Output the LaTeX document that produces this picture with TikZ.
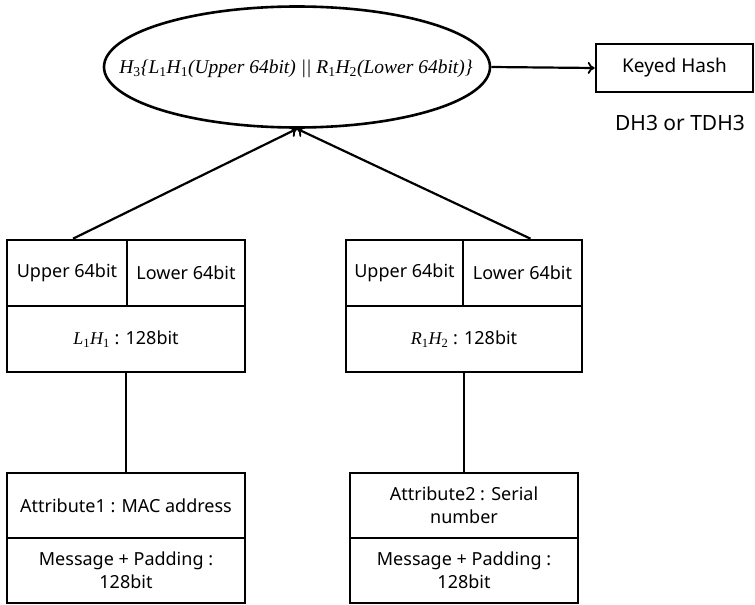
\documentclass[tikz,border=0pt]{standalone}
\usepackage{fontspec}
\setmainfont{Noto Sans}
\newfontfamily\mfont{Liberation Serif}
\usetikzlibrary{shapes.geometric,arrows.meta}
\newcommand\lo[1]{\textsubscript{\upshape #1}}
\newcommand\mi[1]{{\mfont\itshape #1}}
\begin{document}
\begin{tikzpicture}[x=1pt,y=-1pt,
  lw/.style={line width=2.6pt},
  cell/.style={draw,lw,rectangle,inner sep=0pt,align=center,font=\fontsize{18}{23}\selectfont},
  conn/.style={line width=2.2pt},
  arr/.style={conn,-{To[length=7pt,width=12pt,line width=1.8pt]}}]
\useasboundingbox (0,0) rectangle (755,605);
\fill[white] (0,0) rectangle (755,605);
% top ellipse
\node[ellipse,lw,minimum width=386pt,minimum height=121pt,inner sep=0pt] (ell) at (297,67) {};
\draw[lw] (ell.center) ellipse [x radius=193pt, y radius=60.5pt];
\node[inner sep=0pt,font=\fontsize{19.5}{22}\selectfont\mfont\itshape] (ellt) at (296,69)
  {H\lo{3}\{L\lo{1}H\lo{1}(Upper 64bit) || R\lo{1}H\lo{2}(Lower 64bit)\}};
\node[cell,minimum width=157pt,minimum height=48pt,font=\fontsize{19}{22}\selectfont] (kh) at (674.5,68) {Keyed Hash};
\node[font=\fontsize{21}{24}\selectfont,inner sep=0pt] (dh) at (680,123) {DH3 or TDH3};
% upper left box
\node[cell,minimum width=120pt,minimum height=66pt] (ul1) at (67,273) {Upper 64bit};
\node[cell,minimum width=118pt,minimum height=66pt] (ul2) at (186,273) {Lower 64bit};
\node[cell,minimum width=238pt,minimum height=66pt] (ul3) at (126,339) {\mi{L\lo{1}H\lo{1}} : 128bit};
% upper right box
\node[cell,minimum width=117pt,minimum height=66pt] (ur1) at (404.5,273) {Upper 64bit};
\node[cell,minimum width=119pt,minimum height=66pt] (ur2) at (522.5,273) {Lower 64bit};
\node[cell,minimum width=236pt,minimum height=66pt] (ur3) at (464,339) {\mi{R\lo{1}H\lo{2}} : 128bit};
% bottom left box
\node[cell,minimum width=238pt,minimum height=65pt] (bl1) at (126,505.5) {Attribute1 : MAC address};
\node[cell,minimum width=238pt,minimum height=65pt] (bl2) at (126,570.5) {Message + Padding :\\128bit};
% bottom right box
\node[cell,minimum width=228pt,minimum height=65pt] (br1) at (464,505.5) {Attribute2 : Serial\\number};
\node[cell,minimum width=228pt,minimum height=65pt] (br2) at (464,570.5) {Message + Padding :\\128bit};
% connectors
\draw[arr] (ell.east) -- (kh.west);
\draw[arr] ([xshift=6pt]ul1.north) -- (ell.south);
\draw[arr] ([xshift=8pt]ur2.north) -- (ell.south);
\draw[conn] (ul3.south) -- (bl1.north);
\draw[conn] (ur3.south) -- (br1.north);
\end{tikzpicture}
\end{document}
